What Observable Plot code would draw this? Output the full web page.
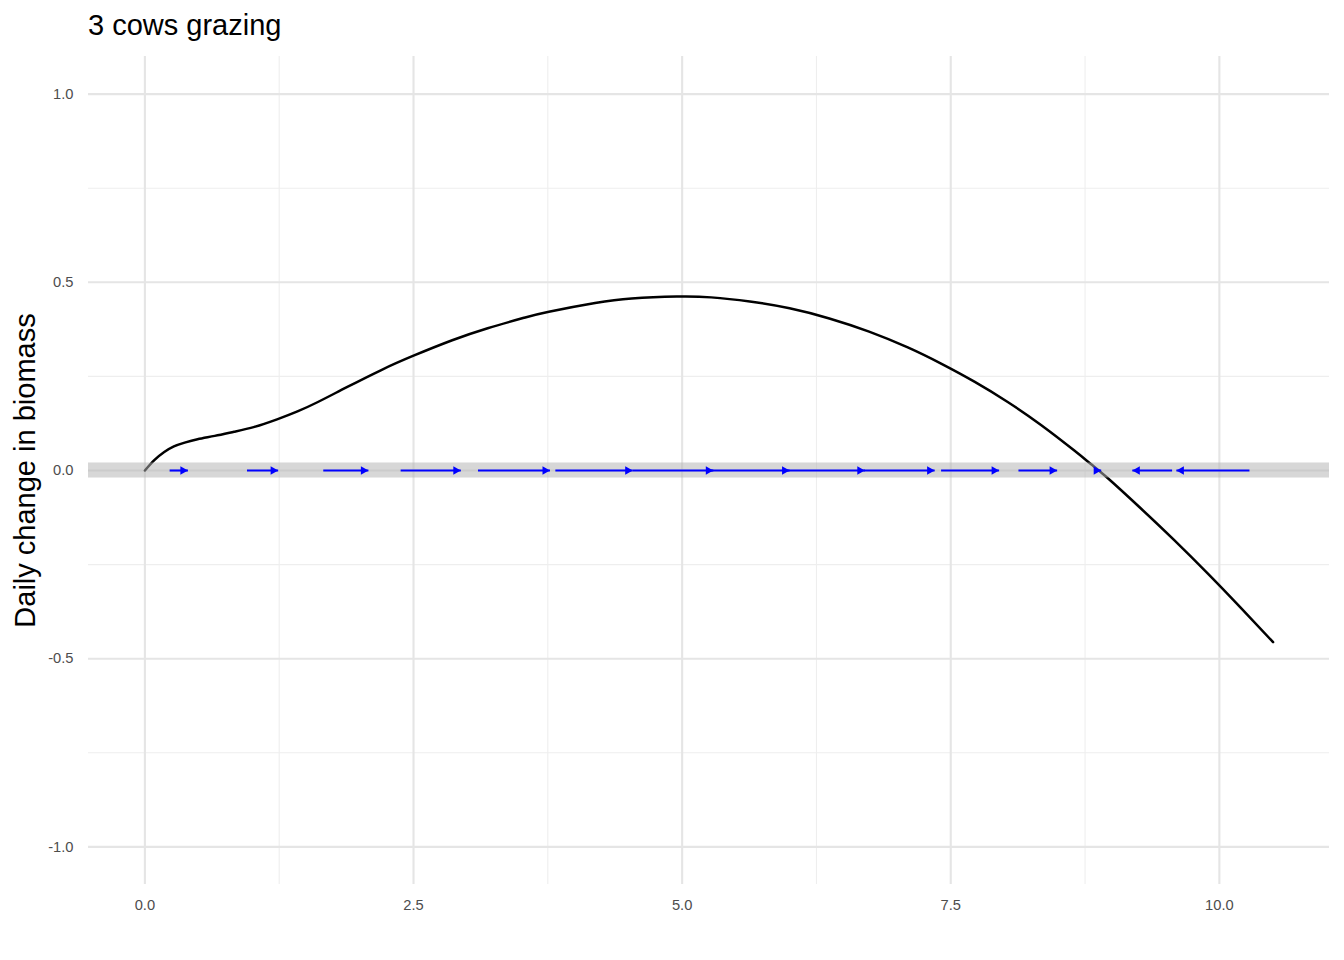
<!DOCTYPE html>
<html>
<head>
<meta charset="utf-8">
<script src="https://cdn.jsdelivr.net/npm/d3@7"></script>
<script src="https://cdn.jsdelivr.net/npm/@observablehq/plot@0.6"></script>
<style>
  html, body { margin: 0; padding: 0; background: #ffffff; }
  #title {
    height: 56px; box-sizing: border-box; padding: 11px 0 0 88px;
    font-family: "Liberation Sans", Arial, sans-serif; font-size: 29px; line-height: 29px; color: #000;
  }
  #chart svg { display: block; }
</style>
</head>
<body>
<div id="title">3 cows grazing</div>
<div id="chart"></div>
<script>
// ---- data ----
const biomass = [0, 0.09, 0.18, 0.27, 0.37, 0.49, 0.65, 0.83, 1.02, 1.23, 1.42, 1.61, 1.87, 2.2, 2.5, 2.86, 3.19, 3.53, 3.76, 4.19, 4.53, 4.95, 5.27, 5.63, 6.0, 6.37, 6.74, 7.1, 7.41, 7.72, 8.03, 8.34, 8.65, 8.81, 8.96, 9.27, 9.58, 9.9, 10.2, 10.5];
const dailyChange = [0, 0.028, 0.049, 0.064, 0.074, 0.083, 0.092, 0.103, 0.116, 0.136, 0.157, 0.182, 0.220, 0.267, 0.305, 0.346, 0.378, 0.406, 0.422, 0.445, 0.457, 0.462, 0.460, 0.449, 0.431, 0.404, 0.369, 0.327, 0.284, 0.236, 0.182, 0.121, 0.053, 0.016, -0.020, -0.101, -0.185, -0.276, -0.365, -0.456];

const arrowStart = [0.23, 0.95, 1.66, 2.38, 3.10, 3.82, 4.54, 5.25, 5.97, 6.69, 7.41, 8.13, 8.85, 9.56, 10.28];
const arrowEnd   = [0.40, 1.24, 2.08, 2.94, 3.77, 4.54, 5.29, 6.00, 6.70, 7.35, 7.95, 8.49, 8.90, 9.19, 9.60];

const xMajorTicks = [0, 2.5, 5, 7.5, 10];
const xMinorTicks = [1.25, 3.75, 6.25, 8.75];
const yMajorTicks = [-1, -0.5, 0, 0.5, 1];
const yMinorTicks = [-0.75, -0.25, 0.25, 0.75];

const titleText = "3 cows grazing";
const yTitle = "Daily change in biomass";
const bandHalfWidth = 0.02;

// ---- tables built from the arrays ----
const curve = biomass.map((x, i) => ({x, y: dailyChange[i]}));
const arrows = arrowStart.map((x1, i) => ({x1, x2: arrowEnd[i]}));
const xDomain = [-0.525, 11.025];
const yDomain = [-1.1, 1.1];

const headRight = {draw(ctx) { ctx.moveTo(0, 0); ctx.lineTo(-7.5, -4.3); ctx.lineTo(-7.5, 4.3); ctx.closePath(); }};
const headLeft  = {draw(ctx) { ctx.moveTo(0, 0); ctx.lineTo(7.5, -4.3); ctx.lineTo(7.5, 4.3); ctx.closePath(); }};

const fmt = d => d.toFixed(1);

const chart = Plot.plot({
  width: 1344,
  height: 904,
  marginTop: 0,
  marginBottom: 76,
  marginLeft: 88,
  marginRight: 15,
  style: {fontFamily: "'Liberation Sans', Arial, sans-serif", background: "#ffffff"},
  x: {domain: xDomain},
  y: {domain: yDomain},
  marks: [
    Plot.gridX(xMinorTicks, {stroke: "#EEEEEE", strokeOpacity: 1, strokeWidth: 1.1}),
    Plot.gridY(yMinorTicks, {stroke: "#EEEEEE", strokeOpacity: 1, strokeWidth: 1.1}),
    Plot.gridX(xMajorTicks, {stroke: "#E5E5E5", strokeOpacity: 1, strokeWidth: 2.1}),
    Plot.gridY(yMajorTicks, {stroke: "#E5E5E5", strokeOpacity: 1, strokeWidth: 2.1}),
    Plot.axisX(xMajorTicks, {tickSize: 0, tickPadding: 15, tickFormat: fmt, fontSize: 14.7, color: "#4D4D4D", label: null}),
    Plot.axisY(yMajorTicks, {tickSize: 0, tickPadding: 15, tickFormat: fmt, fontSize: 14.7, color: "#4D4D4D", label: null}),
    Plot.line(curve, {x: "x", y: "y", stroke: "#000000", strokeWidth: 2.5, curve: "natural"}),
    Plot.rect([0], {x1: () => xDomain[0], x2: () => xDomain[1], y1: () => -bandHalfWidth, y2: () => bandHalfWidth, fill: "#b3b3b3", fillOpacity: 0.52}),
    Plot.link(arrows, {x1: "x1", x2: "x2", y1: () => 0, y2: () => 0, stroke: "#0000FF", strokeWidth: 2.1}),
    Plot.dot(arrows.filter(d => d.x2 >= d.x1), {x: "x2", y: () => 0, symbol: headRight, fill: "#0000FF", stroke: "none"}),
    Plot.dot(arrows.filter(d => d.x2 < d.x1), {x: "x2", y: () => 0, symbol: headLeft, fill: "#0000FF", stroke: "none"}),
    Plot.text([yTitle], {frameAnchor: "left", rotate: -90, dx: -54, lineAnchor: "bottom", textAnchor: "middle", fontSize: 29, fill: "#000000"})
  ]
});
document.getElementById("chart").appendChild(chart);
document.getElementById("title").textContent = titleText;
</script>
</body>
</html>
